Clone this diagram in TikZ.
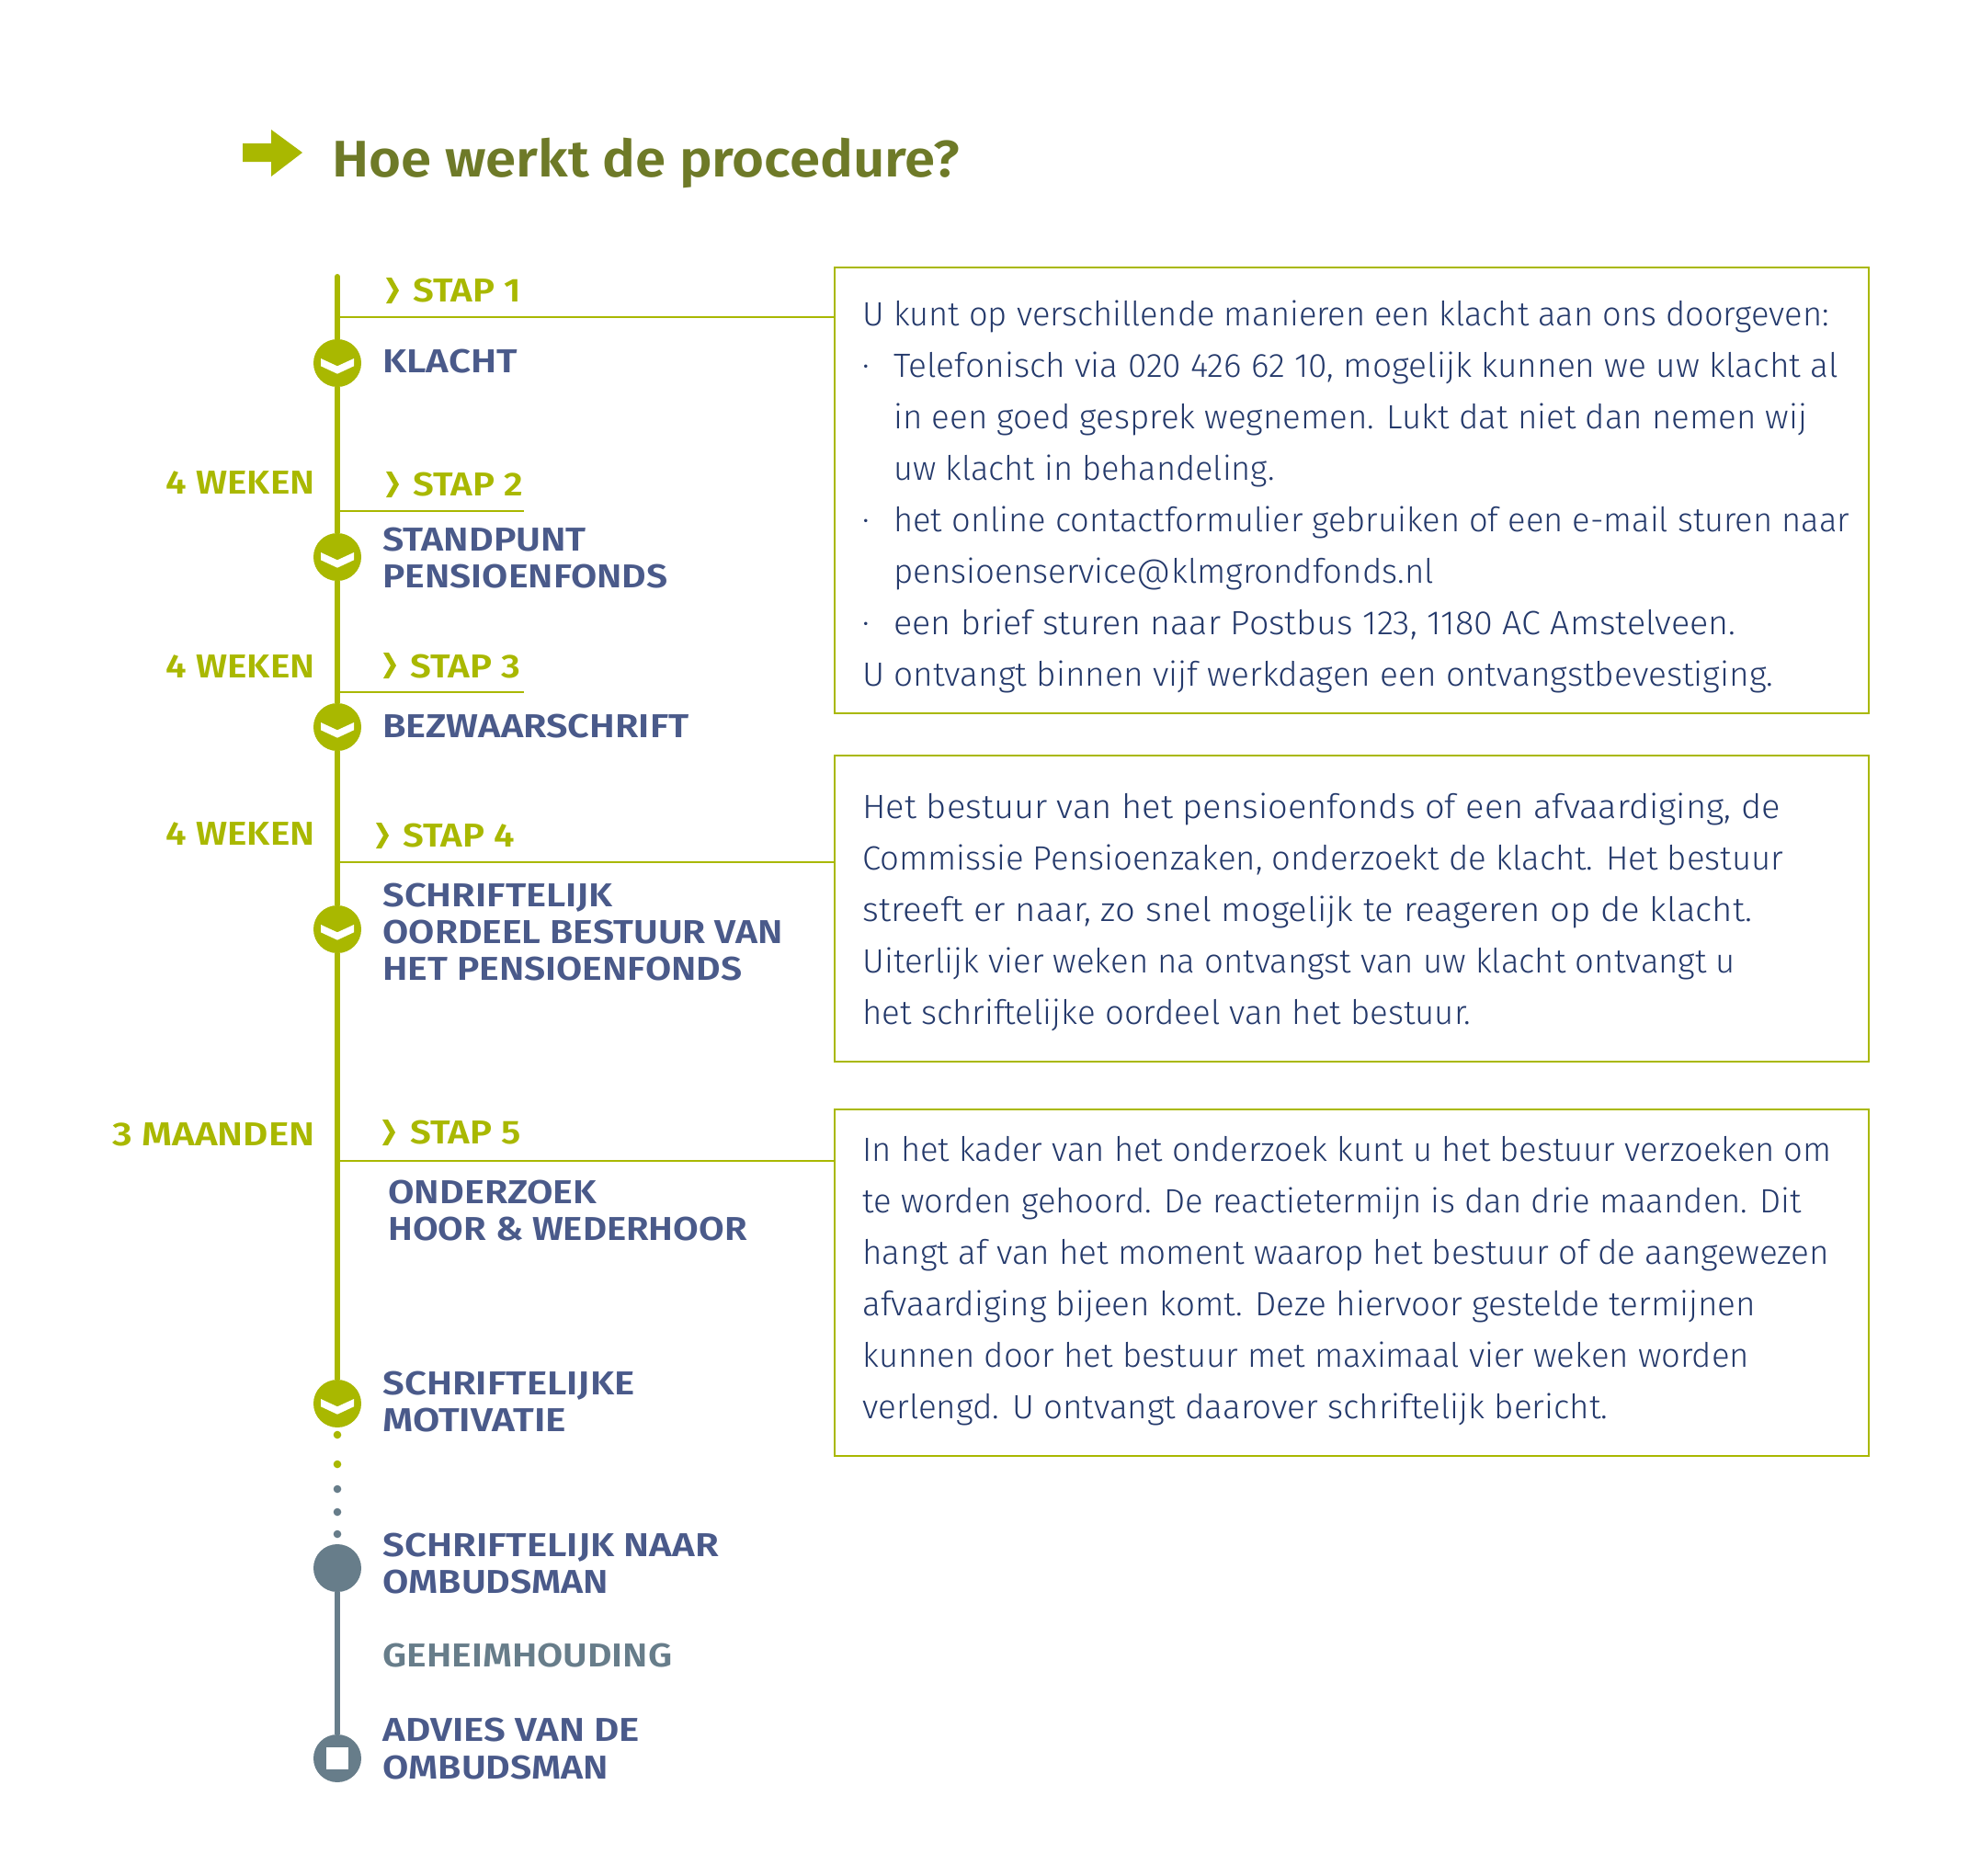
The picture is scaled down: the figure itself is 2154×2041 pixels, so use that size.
\documentclass[tikz,border=0pt]{standalone}
\usepackage{fontspec}
\setmainfont{Fira Sans}[UprightFont=* Light,BoldFont=* SemiBold]
\definecolor{grn}{HTML}{A9B800}
\definecolor{olv}{HTML}{6E7A28}
\definecolor{nvy}{HTML}{4A5A8A}
\definecolor{gry}{HTML}{677D8A}
\definecolor{bdy}{HTML}{24396B}
\tikzset{
 x=0.5pt,y=-0.5pt,
 sx/.style={xscale=#1,transform shape},
 head/.style={anchor=base west,inner sep=0,font=\fontsize{18}{18}\selectfont\bfseries,text=nvy},
 stap/.style={anchor=base west,inner sep=0,font=\fontsize{18}{18}\selectfont\bfseries,text=grn,sx=1.12},
 dur/.style={anchor=base east,inner sep=0,font=\fontsize{18}{18}\selectfont\bfseries,text=grn},
 body/.style={anchor=base west,inner sep=0,font=\fontsize{18.3}{18.3}\selectfont,text=bdy},
 bigdot/.style={circle,fill=grn,inner sep=0,minimum size=26pt},
 greydot/.style={circle,fill=gry,inner sep=0,minimum size=26pt},
 smalldot/.style={circle,inner sep=0,minimum size=4.3pt},
 rule/.style={draw=grn,line width=1pt},
 box/.style={draw=grn,line width=1pt,fill=white},
 spine/.style={line width=3pt},
}
\newcommand{\chevdown}[1]{\begin{scope}[shift={(#1)}]\fill[white] (-18,-5) -- (0,3.3) -- (18,-5) -- (18,3.3) -- (0,11.7) -- (-18,3.3) -- cycle;\end{scope}}
\newcommand{\chevright}[2]{\fill[grn] (#1,#2-27) -- (#1+6,#2-27) -- (#1+14,#2-13) -- (#1+6,#2+1) -- (#1,#2+1) -- (#1+8,#2-13) -- cycle;}
\begin{document}
\begin{tikzpicture}
\useasboundingbox (0,0) rectangle (2154,2041);
\fill[white] (0,0) rectangle (2154,2041);
% title
\fill[grn] (264,156) -- (295,156) -- (295,141) -- (329,166) -- (295,192) -- (295,176) -- (264,176) -- cycle;
\node[anchor=base west,inner sep=0,font=\fontsize{28}{28}\selectfont\bfseries,text=olv,sx=1.071] (title) at (361,192) {Hoe werkt de procedure?};
% timeline
\coordinate (top) at (367,301);
\node[bigdot] (c1) at (367,395) {};
\node[bigdot] (c2) at (367,606) {};
\node[bigdot] (c3) at (367,791) {};
\node[bigdot] (c4) at (367,1011) {};
\node[bigdot] (c5) at (367,1527) {};
\node[greydot] (g1) at (367,1706) {};
\node[greydot] (g2) at (367,1913) {};
\draw[spine,draw=grn,line cap=round] (top) -- (c1);
\draw[spine,draw=grn] (c1) -- (c2);
\draw[spine,draw=grn] (c2) -- (c3);
\draw[spine,draw=grn] (c3) -- (c4);
\draw[spine,draw=grn] (c4) -- (c5);
\draw[spine,draw=gry] (g1) -- (g2);
\chevdown{c1}\chevdown{c2}\chevdown{c3}\chevdown{c4}\chevdown{c5}
\begin{scope}[shift={(g2)}]\fill[white] (-12,-12) rectangle (12,12);\end{scope}
\node[smalldot,fill=grn] (d1) at (367,1561) {};
\node[smalldot,fill=grn] (d2) at (367,1593) {};
\node[smalldot,fill=gry] (d3) at (367,1620) {};
\node[smalldot,fill=gry] (d4) at (367,1645) {};
\node[smalldot,fill=gry] (d5) at (367,1669) {};
% boxes
\node[box,anchor=north west,minimum width=562.5pt,minimum height=242.5pt,inner sep=0] (b1) at (907,290) {};
\node[box,anchor=north west,minimum width=562.5pt,minimum height=166.5pt,inner sep=0] (b2) at (907,821) {};
\node[box,anchor=north west,minimum width=562.5pt,minimum height=188.5pt,inner sep=0] (b3) at (907,1206) {};
% rules
\coordinate (r1) at (367,345);
\coordinate (r2) at (367,556);
\coordinate (r2e) at (570,556);
\coordinate (r3) at (367,753);
\coordinate (r3e) at (570,753);
\coordinate (r4) at (367,938);
\coordinate (r5) at (367,1263);
\draw[rule] (r1) -- (r1 -| b1.west);
\draw[rule] (r2) -- (r2e);
\draw[rule] (r3) -- (r3e);
\draw[rule] (r4) -- (r4 -| b2.west);
\draw[rule] (r5) -- (r5 -| b3.west);
% stap labels
\chevright{420}{329}\node[stap] (s1) at (449,328) {STAP 1};
\chevright{420}{540}\node[stap] (s2) at (449,539) {STAP 2};
\chevright{417}{737}\node[stap] (s3) at (446,737) {STAP 3};
\chevright{409}{922}\node[stap] (s4) at (438,921) {STAP 4};
\chevright{416}{1245}\node[stap] (s5) at (446,1244) {STAP 5};
% durations
\node[dur,sx=1.125] (w2) at (343,537) {4 WEKEN};
\node[dur,sx=1.125] (w3) at (343,737) {4 WEKEN};
\node[dur,sx=1.125] (w4) at (343,919) {4 WEKEN};
\node[dur,sx=1.168] (w5) at (343,1246) {3 MAANDEN};
% headings
\node[head,sx=1.167] (h1) at (416,405) {KLACHT};
\node[head,sx=1.143] (h2a) at (416,599) {STANDPUNT};
\node[head,sx=1.136] (h2b) at (416,639) {PENSIOENFONDS};
\node[head,sx=1.152] (h3) at (416,802) {BEZWAARSCHRIFT};
\node[head,sx=1.159] (h4a) at (416,986) {SCHRIFTELIJK};
\node[head,sx=1.137] (h4b) at (416,1026) {OORDEEL BESTUUR VAN};
\node[head,sx=1.136] (h4c) at (416,1066) {HET PENSIOENFONDS};
\node[head,sx=1.146] (h5a) at (422,1309) {ONDERZOEK};
\node[head,sx=1.114] (h5b) at (422,1349) {HOOR \& WEDERHOOR};
\node[head,sx=1.165] (h6a) at (416,1517) {SCHRIFTELIJKE};
\node[head,sx=1.18] (h6b) at (416,1557) {MOTIVATIE};
\node[head,sx=1.167] (h7a) at (416,1693) {SCHRIFTELIJK NAAR};
\node[head,sx=1.141] (h7b) at (416,1733) {OMBUDSMAN};
\node[head,text=gry,sx=1.134] (h8) at (416,1813) {GEHEIMHOUDING};
\node[head,sx=1.168] (h9a) at (416,1894) {ADVIES VAN DE};
\node[head,sx=1.141] (h9b) at (416,1935) {OMBUDSMAN};
% body 1
\node[body,sx=.990] (t11) at (938,354) {U kunt op verschillende manieren een klacht aan ons doorgeven:};
\node[body] (t1d1) at (938,410) {·};
\node[body,sx=1.012] (t12) at (972,410) {Telefonisch via 020 426 62 10, mogelijk kunnen we uw klacht al};
\node[body,sx=1.0] (t13) at (972,466) {in een goed gesprek wegnemen. Lukt dat niet dan nemen wij};
\node[body,sx=.988] (t14) at (972,522) {uw klacht in behandeling.};
\node[body] (t1d2) at (938,578) {·};
\node[body,sx=.99] (t15) at (972,578) {het online contactformulier gebruiken of een e-mail sturen naar};
\node[body,sx=1.0] (t16) at (972,634) {pensioenservice@klmgrondfonds.nl};
\node[body] (t1d3) at (938,690) {·};
\node[body,sx=1.029] (t17) at (972,690) {een brief sturen naar Postbus 123, 1180 AC Amstelveen.};
\node[body,sx=1.01] (t18) at (938,746) {U ontvangt binnen vijf werkdagen een ontvangstbevestiging.};
% body 2
\node[body,sx=1.04] (t21) at (938,890) {Het bestuur van het pensioenfonds of een afvaardiging, de};
\node[body,sx=.998] (t22) at (938,946) {Commissie Pensioenzaken, onderzoekt de klacht. Het bestuur};
\node[body,sx=1.046] (t23) at (938,1002) {streeft er naar, zo snel mogelijk te reageren op de klacht.};
\node[body,sx=.998] (t24) at (938,1058) {Uiterlijk vier weken na ontvangst van uw klacht ontvangt u};
\node[body,sx=1.0] (t25) at (938,1114) {het schriftelijke oordeel van het bestuur.};
% body 3
\node[body,sx=.994] (t31) at (938,1263) {In het kader van het onderzoek kunt u het bestuur verzoeken om};
\node[body,sx=.996] (t32) at (938,1319) {te worden gehoord. De reactietermijn is dan drie maanden. Dit};
\node[body,sx=1.005] (t33) at (938,1375) {hangt af van het moment waarop het bestuur of de aangewezen};
\node[body,sx=1.006] (t34) at (938,1431) {afvaardiging bijeen komt. Deze hiervoor gestelde termijnen};
\node[body,sx=.997] (t35) at (938,1487) {kunnen door het bestuur met maximaal vier weken worden};
\node[body,sx=1.004] (t36) at (938,1543) {verlengd. U ontvangt daarover schriftelijk bericht.};
\end{tikzpicture}
\end{document}
